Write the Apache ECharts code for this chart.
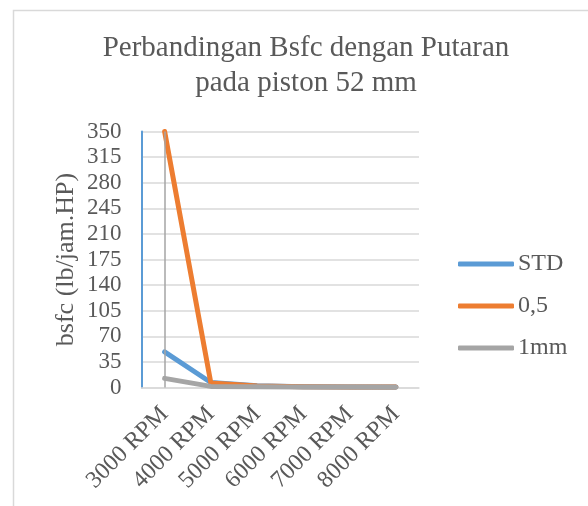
<!DOCTYPE html>
<html>
<head>
<meta charset="utf-8">
<script src="https://cdn.jsdelivr.net/npm/echarts@6/dist/echarts.min.js"></script>
<style>html,body{margin:0;padding:0;background:#fff;}#c{width:588px;height:506px;}</style>
</head>
<body>
<div id="c"></div>
<script>
const categories = ['3000 RPM', '4000 RPM', '5000 RPM', '6000 RPM', '7000 RPM', '8000 RPM'];
const seriesNames = ['STD', '0,5', '1mm'];
const stdValues = [48.7, 6.8, 2.5, 1, 0.8, 0.6];
const halfValues = [350, 6, 2, 1, 0.8, 0.6];
const oneMmValues = [12.5, 1.5, 1, 0.7, 0.6, 0.5];
const yTicks = [0, 35, 70, 105, 140, 175, 210, 245, 280, 315, 350];

const FONT = 'Liberation Serif';
const TXT = '#595959';
const colors = ['#5b9bd5', '#ed7d31', '#a5a5a5'];

const chart = echarts.init(document.getElementById('c'), null, {renderer: 'canvas'});
function mkSeries(name, data, color, extra) {
  return Object.assign({
    name: name,
    type: 'line',
    data: data,
    symbol: 'none',
    showSymbol: false,
    color: color,
    lineStyle: {color: color, width: 5, cap: 'round', join: 'round'},
    animation: false
  }, extra || {});
}
chart.setOption({
  animation: false,
  graphic: [{
    type: 'rect',
    shape: {x: 13.5, y: 10.5, width: 700, height: 700},
    style: {fill: 'none', stroke: '#d9d9d9', lineWidth: 1.5},
    silent: true
  }],
  title: {
    text: 'Perbandingan Bsfc dengan Putaran\npada piston 52 mm',
    left: 301,
    textAlign: 'center',
    top: 26,
    textStyle: {fontFamily: FONT, fontSize: 29, fontWeight: 'normal', color: TXT, lineHeight: 35}
  },
  legend: {
    orient: 'vertical',
    left: 458,
    top: 251,
    padding: 0,
    itemWidth: 56,
    itemHeight: 5,
    itemGap: 16,
    icon: 'roundRect',
    data: seriesNames,
    textStyle: {fontFamily: FONT, fontSize: 24, color: TXT, lineHeight: 26, padding: [0, 0, 0, -1]}
  },
  grid: {left: 141.5, right: 169, top: 131.5, bottom: 118.5, containLabel: false},
  xAxis: {
    type: 'category',
    data: categories,
    boundaryGap: true,
    axisLine: {show: true, lineStyle: {color: '#d9d9d9', width: 1.5}},
    axisTick: {show: false},
    axisLabel: {rotate: 45, margin: 23, fontFamily: FONT, fontSize: 24, color: TXT, interval: 0}
  },
  yAxis: {
    type: 'value',
    min: 0,
    max: 350,
    interval: 35,
    name: 'bsfc (lb/jam.HP)',
    nameLocation: 'middle',
    nameGap: 62,
    nameRotate: 90,
    nameTextStyle: {fontFamily: FONT, fontSize: 26, color: TXT},
    axisLine: {show: true, lineStyle: {color: '#5b9bd5', width: 2}},
    axisTick: {show: false},
    splitLine: {show: true, lineStyle: {color: '#d9d9d9', width: 1.5}},
    axisLabel: {
      margin: 20, fontFamily: FONT, fontSize: 23, color: TXT,
      formatter: function (v) { return yTicks.indexOf(v) >= 0 ? String(v) : ''; }
    }
  },
  series: [
    mkSeries(seriesNames[0], stdValues, colors[0], {
      markLine: {
        silent: true,
        symbol: 'none',
        label: {show: false},
        lineStyle: {color: '#a5a5a5', width: 1.5, type: 'solid'},
        data: [{xAxis: categories[0]}],
        animation: false
      }
    }),
    mkSeries(seriesNames[1], halfValues, colors[1]),
    mkSeries(seriesNames[2], oneMmValues, colors[2])
  ]
});
</script>
</body>
</html>
